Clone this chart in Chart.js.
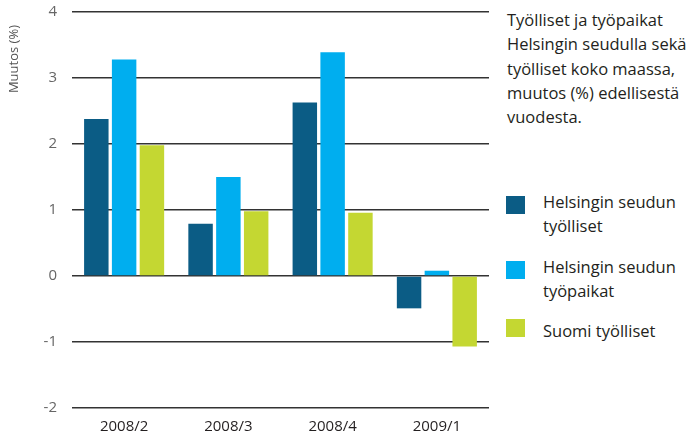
<!DOCTYPE html>
<html>
<head>
<meta charset="utf-8">
<script src="https://cdn.jsdelivr.net/npm/chart.js@4"></script>
<style>
  html, body { margin: 0; padding: 0; background: #fff; }
  body { width: 687px; height: 439px; position: relative; overflow: hidden; font-family: 'Open Sans', sans-serif; color: #231f20; }
  #wrap { position: absolute; left: 0; top: 0; width: 497px; height: 439px; }
  #title { position: absolute; left: 507px; top: 8px; font-size: 16.5px; line-height: 24.3px; white-space: nowrap; }
  .leg { position: absolute; left: 506px; font-size: 16.5px; line-height: 23.5px; white-space: nowrap; }
  .leg .sw { position: absolute; left: 0; width: 19px; height: 18px; }
  .leg .tx { position: absolute; left: 37px; top: 0; }
</style>
</head>
<body>
<div id="wrap"><canvas id="c"></canvas></div>
<div id="title">Työlliset ja työpaikat<br>Helsingin seudulla sekä<br>työlliset koko maassa,<br>muutos (%) edellisestä<br>vuodesta.</div>
<div id="legend"></div>
<script>
// quarters on the x axis
const periods = ['2008/2', '2008/3', '2008/4', '2009/1'];

// change (%) from previous year
const hkiEmployed = [2.38, 0.79, 2.63, -0.49];
const hkiJobs     = [3.28, 1.50, 3.39, 0.08];
const finEmployed = [1.98, 0.98, 0.96, -1.07];

const seriesNames  = [['Helsingin seudun', 'työlliset'], ['Helsingin seudun', 'työpaikat'], ['Suomi työlliset']];
const seriesColors = ['#0b5c85', '#00aeef', '#c4d732'];
const yTicks = [-2, -1, 0, 1, 2, 3, 4];

Chart.defaults.font.family = "'Open Sans', sans-serif";
Chart.defaults.animation = false;

const values = [hkiEmployed, hkiJobs, finEmployed];

new Chart(document.getElementById('c'), {
  type: 'bar',
  data: {
    labels: periods,
    datasets: values.map((v, i) => ({
      label: seriesNames[i].join(' '),
      data: v,
      backgroundColor: seriesColors[i],
      borderWidth: 0,
      barPercentage: 0.88,
      categoryPercentage: 0.8,
    })),
  },
  options: {
    responsive: true,
    maintainAspectRatio: false,
    layout: { padding: { top: 12, right: 8, left: 0, bottom: 0 } },
    plugins: { legend: { display: false }, tooltip: { enabled: false } },
    scales: {
      x: {
        grid: { display: false },
        border: { display: false },
        ticks: { color: '#231f20', font: { size: 15 }, padding: 2 },
        afterFit: s => { s.height = 31; },
      },
      y: {
        min: yTicks[0],
        max: yTicks[yTicks.length - 1],
        afterBuildTicks: s => { s.ticks = yTicks.map(v => ({ value: v })); },
        grid: { color: '#333', lineWidth: 1.5, drawTicks: false },
        border: { display: false },
        ticks: { color: '#666', font: { size: 15 }, padding: 15 },
        title: { display: true, text: 'Muutos (%)\u2003', align: 'end', color: '#555', font: { size: 13 }, padding: { top: 6, bottom: 0 } },
        afterFit: s => { s.width = 72; s.paddingTop = 0; s.paddingBottom = 0; },
      },
    },
  },
});

// legend on the right
const legendEl = document.getElementById('legend');
const legendTops = [190, 255, 319];
const swatchTops = [6, 6, 0];
seriesNames.forEach((lines, i) => {
  const item = document.createElement('div');
  item.className = 'leg';
  item.style.top = legendTops[i] + 'px';
  item.innerHTML = `<span class="sw" style="top:${swatchTops[i]}px;background:${seriesColors[i]}"></span><span class="tx">${lines.join('<br>')}</span>`;
  legendEl.appendChild(item);
});
</script>
</body>
</html>
